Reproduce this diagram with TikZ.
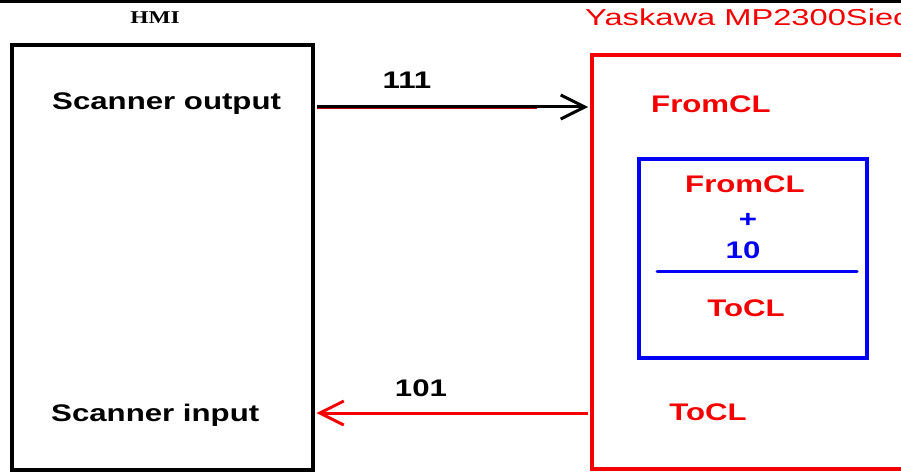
\documentclass[tikz,border=0pt]{standalone}
\usepackage{fontspec}
\setmainfont{Liberation Sans}[FakeStretch=1.3]
\newfontfamily\titlefont{Liberation Sans}[FakeStretch=1.42]
\newfontfamily\hmifont{Liberation Serif}[FakeStretch=1.3]
\usetikzlibrary{arrows.meta}
\definecolor{pred}{RGB}{245,0,0}
\definecolor{pblue}{RGB}{0,0,245}
\tikzset{
  lbl/.style={inner sep=0pt, font=\fontsize{24}{24}\selectfont\bfseries},
  box/.style={draw, line width=4pt, inner sep=0pt},
  barb/.style={-{Straight Barb[length=24pt,width=24pt,line width=3pt]}, line width=3pt},
}
\begin{document}
\begin{tikzpicture}[x=1pt,y=-1pt]
\clip (0,0) rectangle (901,473);
\fill[white] (0,0) rectangle (901,473);
\fill[black] (0,0) rectangle (901,3.5);
% boxes
\node[box, black, minimum width=301pt, minimum height=425pt] (hmi) at (162,257.5) {};
\node[box, pred, minimum width=340pt, minimum height=414pt] (plc) at (762,262) {};
\node[box, pblue, minimum width=228pt, minimum height=199pt] (calc) at (753,258.5) {};
% titles
\node[inner sep=0pt, anchor=base, font=\hmifont\fontsize{18}{18}\selectfont\bfseries] (thmi) at (155,24) {HMI};
\node[inner sep=0pt, anchor=base west, text=pred, font=\titlefont\fontsize{23}{23}\selectfont] (tplc) at (585,26) {Yaskawa MP2300Siec};
% labels
\node[lbl, anchor=base west] (sout) at (52,110) {Scanner output};
\node[lbl, anchor=base west] (sin) at (51,421) {Scanner input};
\node[lbl, anchor=base, text=pred] (from1) at (711,113) {FromCL};
\node[lbl, anchor=base, text=pred] (to1) at (708,420) {ToCL};
\node[lbl, anchor=base, text=pred] (from2) at (745,192) {FromCL};
\node[lbl, anchor=base, text=pblue] (plus) at (748,227) {+};
\node[lbl, anchor=base, text=pblue] (ten) at (743,258) {10};
\node[lbl, anchor=base, text=pred] (to2) at (746,316) {ToCL};
\node[lbl, anchor=base] (l111) at (407,89) {111};
\node[lbl, anchor=base] (l101) at (421,396) {101};
% divider
\coordinate (dl) at (657,271);
\coordinate (dr) at (857,271);
\draw[pblue, line width=3pt, line cap=round] (dl) -- (dr);
% arrows
\coordinate (r0) at ([xshift=2pt]hmi.east |- 0,108.6);
\coordinate (r1) at (537,108.6);
\draw[barb, black] ([xshift=2pt]hmi.east |- 0,107) -- ([xshift=-2pt]plc.west |- 0,107);
\draw[pred!75!black, line width=1.4pt] (r0) -- (r1);
\draw[barb, pred] ([xshift=-2pt]plc.west |- 0,413) -- ([xshift=2pt]hmi.east |- 0,413);
\end{tikzpicture}
\end{document}
